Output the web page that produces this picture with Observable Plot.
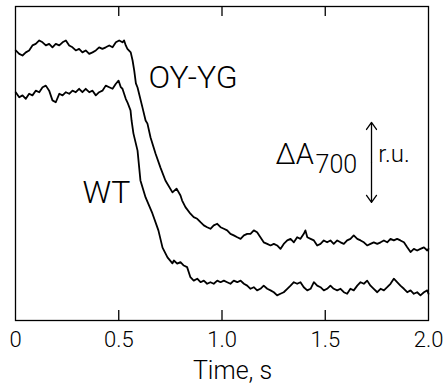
<!DOCTYPE html>
<html>
<head>
<meta charset="utf-8">
<script src="https://cdn.jsdelivr.net/npm/d3@7"></script>
<script src="https://cdn.jsdelivr.net/npm/@observablehq/plot@0.6"></script>
<style>
  html, body { margin: 0; padding: 0; background: #fff; }
  #chart svg { display: block; }
</style>
</head>
<body>
<div id="chart"></div>
<script>
// Time (s) and ΔA700 (relative units, 0–100 scale)
const oyygTime = [0.001,0.018,0.034,0.050,0.066,0.082,0.098,0.115,0.131,0.147,0.163,0.179,0.195,0.212,0.228,0.244,0.260,0.276,0.292,0.308,0.324,0.340,0.357,0.373,0.389,0.405,0.421,0.437,0.454,0.470,0.486,0.502,0.518,0.526,0.534,0.542,0.558,0.567,0.575,0.583,0.591,0.615,0.630,0.639,0.654,0.678,0.702,0.726,0.760,0.780,0.799,0.807,0.823,0.847,0.863,0.880,0.896,0.912,0.928,0.944,0.960,0.977,0.993,1.009,1.025,1.041,1.057,1.074,1.090,1.106,1.122,1.138,1.154,1.170,1.186,1.202,1.219,1.235,1.251,1.267,1.283,1.299,1.316,1.332,1.348,1.364,1.380,1.396,1.404,1.413,1.429,1.445,1.461,1.477,1.493,1.509,1.525,1.541,1.558,1.574,1.590,1.606,1.622,1.638,1.655,1.671,1.687,1.703,1.719,1.735,1.752,1.768,1.784,1.800,1.816,1.832,1.848,1.864,1.881,1.897,1.913,1.929,1.945,1.961,1.978,1.994,2.000];
const oyygValue = [86.0,84.9,84.4,85.4,86.0,87.6,88.1,89.2,88.6,87.6,88.1,87.0,88.1,87.6,88.6,89.2,87.6,87.0,86.0,86.5,85.4,86.0,84.9,85.4,86.0,87.0,86.5,87.0,87.6,87.0,88.6,89.2,88.6,89.2,87.6,86.5,85.4,82.8,79.6,75.5,74.2,67.8,63.7,62.7,58.3,53.2,48.7,44.6,40.8,42.0,39.8,38.2,36.1,34.0,32.9,32.4,31.3,30.3,29.7,29.2,30.3,30.8,29.7,29.2,28.7,27.6,27.1,26.5,26.0,27.1,27.6,27.6,28.7,28.1,26.5,24.9,24.4,23.9,24.4,23.9,22.8,24.4,25.5,26.0,24.9,26.5,26.0,27.6,28.7,26.5,26.0,25.5,23.9,24.4,25.5,24.9,25.5,24.4,25.5,24.9,24.4,25.5,26.0,27.1,26.0,25.5,24.9,23.9,24.4,24.9,24.4,24.9,25.5,24.9,26.0,25.5,26.0,25.5,24.9,23.3,21.8,22.8,22.3,22.8,23.3,22.3,22.8];

const wtTime = [0.001,0.018,0.034,0.050,0.066,0.082,0.098,0.115,0.131,0.147,0.163,0.179,0.195,0.212,0.228,0.244,0.260,0.276,0.292,0.308,0.324,0.340,0.357,0.373,0.389,0.405,0.421,0.437,0.454,0.470,0.486,0.499,0.510,0.518,0.534,0.542,0.557,0.562,0.571,0.591,0.605,0.630,0.663,0.692,0.712,0.736,0.760,0.767,0.783,0.799,0.815,0.831,0.847,0.863,0.880,0.896,0.912,0.928,0.944,0.960,0.977,0.993,1.009,1.025,1.041,1.057,1.074,1.090,1.106,1.122,1.138,1.154,1.170,1.186,1.202,1.219,1.235,1.251,1.267,1.283,1.299,1.316,1.332,1.348,1.364,1.380,1.396,1.413,1.429,1.445,1.461,1.477,1.493,1.509,1.525,1.541,1.558,1.574,1.590,1.606,1.622,1.638,1.655,1.671,1.687,1.703,1.719,1.735,1.752,1.768,1.784,1.800,1.816,1.832,1.848,1.864,1.881,1.897,1.913,1.929,1.945,1.961,1.978,1.994,2.000];
const wtValue = [72.7,71.1,71.7,70.6,72.2,71.7,73.2,72.7,74.3,74.8,73.2,70.1,69.5,72.2,71.7,72.7,72.2,73.2,72.7,73.8,72.7,73.8,72.7,73.2,71.7,72.7,73.2,74.8,74.3,73.8,75.4,76.4,74.3,73.8,70.6,69.5,66.9,63.7,59.6,54.1,44.6,39.2,34.1,28.7,23.2,20.1,18.2,19.1,18.1,18.6,17.5,17.0,13.8,12.7,13.3,12.2,12.7,11.7,12.2,11.7,12.7,12.2,12.7,12.2,11.7,12.7,12.2,12.7,11.7,11.1,10.1,10.6,9.6,10.1,11.1,10.1,9.6,9.0,8.0,8.5,9.0,10.1,11.1,12.2,11.7,12.2,10.6,9.6,10.1,12.2,11.1,10.6,9.6,10.1,11.1,10.1,9.6,10.1,9.0,8.5,10.1,9.6,11.1,12.2,11.7,12.7,11.1,10.1,9.0,10.1,9.6,10.6,11.7,13.3,12.2,11.1,10.1,9.0,9.6,8.5,9.0,8.0,9.0,9.6,8.5];

const xTicks = [0, 0.5, 1.0, 1.5, 2.0];
const innerTicks = [0.5, 1.0, 1.5];
const seriesNames = ["OY-YG", "WT"];

// annotation labels (text, time, value)
const labelText = ["OY-YG", "WT"];
const labelTime = [0.644, 0.324];
const labelValue = [74.2, 37.3];
const scaleBar = {t: 1.724, low: 37.6, high: 63.1, mid: 50.35};

const data = [
  ...oyygTime.map((t, i) => ({series: seriesNames[0], t, v: oyygValue[i]})),
  ...wtTime.map((t, i) => ({series: seriesNames[1], t, v: wtValue[i]}))
];
const labels = labelText.map((s, i) => ({s, t: labelTime[i], v: labelValue[i]}));

const font = "Roboto, 'Liberation Sans', Arial, sans-serif";

const plot = Plot.plot({
  width: 445,
  height: 390,
  marginLeft: 15,
  marginRight: 17,
  marginTop: 6,
  marginBottom: 70,
  style: {fontFamily: font, fontWeight: 300, background: "#fff", color: "#000"},
  x: {domain: [0, 2], axis: null},
  y: {domain: [0, 100], axis: null},
  marks: [
    Plot.frame({stroke: "#000", strokeWidth: 1.3}),
    Plot.ruleX(innerTicks, {x: d => d, y1: 0, y2: 3.2, stroke: "#000", strokeWidth: 1.3}),
    Plot.ruleX(innerTicks, {x: d => d, y1: 100, y2: 96.8, stroke: "#000", strokeWidth: 1.3}),
    Plot.axisX({
      ticks: xTicks,
      tickFormat: d => d === 0 ? "0" : d.toFixed(1),
      tickSize: 0,
      tickPadding: 11,
      fontSize: 22,
      fontWeight: 300,
      label: null,
      style: {letterSpacing: "2px"}
    }),
    Plot.line(data, {x: "t", y: "v", z: "series", stroke: "#000", strokeWidth: 1.8, curve: "linear"}),
    Plot.text(labels, {x: "t", y: "v", text: "s", textAnchor: "start", lineAnchor: "bottom", fontSize: 32, fontWeight: 300, fill: "#000", style: {letterSpacing: "-1px"}}),
    Plot.text(["ΔA"], {x: [1.259], y: [50.0], textAnchor: "start", lineAnchor: "bottom", fontSize: 29, fontWeight: 300, fill: "#000"}),
    Plot.text(["700"], {x: [1.453], y: [47.1], textAnchor: "start", lineAnchor: "bottom", fontSize: 25, fontWeight: 300, fill: "#000", style: {letterSpacing: "-1px"}}),
    Plot.text(["r.u."], {x: [1.757], y: [50.5], textAnchor: "start", lineAnchor: "bottom", fontSize: 24, fontWeight: 300, fill: "#000"}),
    Plot.arrow([scaleBar], {x1: "t", x2: "t", y1: "mid", y2: "high", stroke: "#000", strokeWidth: 1.3, headLength: 10, headAngle: 70}),
    Plot.arrow([scaleBar], {x1: "t", x2: "t", y1: "mid", y2: "low", stroke: "#000", strokeWidth: 1.3, headLength: 10, headAngle: 70}),
    Plot.text(["Time, s"], {x: [1.051], y: [-18.5], textAnchor: "middle", lineAnchor: "bottom", fontSize: 25, fontWeight: 300, fill: "#000", style: {letterSpacing: "1px"}})
  ]
});
document.getElementById("chart").appendChild(plot);
</script>
</body>
</html>
